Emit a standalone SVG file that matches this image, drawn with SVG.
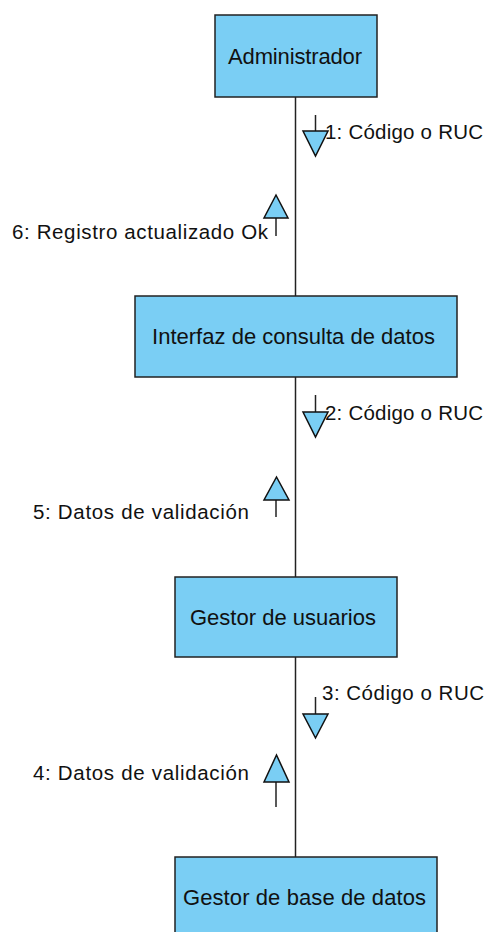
<svg xmlns="http://www.w3.org/2000/svg" width="490" height="932" viewBox="0 0 490 932">
<style>
.box{fill:#7acef4;stroke:#222;stroke-width:1.5}
.name{font-family:"Liberation Sans",Arial,sans-serif;font-size:22px;fill:#111}
.lbl{font-family:"Liberation Sans",Arial,sans-serif;font-size:20.5px;fill:#111}
.ln{stroke:#222;stroke-width:1.5;fill:none}
.tri{fill:#7acef4;stroke:#111;stroke-width:1.5;stroke-linejoin:miter}
</style>
<rect width="490" height="932" fill="#fff"/>
<g id="connectors">
<line class="ln" x1="295.5" y1="97" x2="295.5" y2="296"/>
<line class="ln" x1="295.5" y1="377" x2="295.5" y2="577"/>
<line class="ln" x1="295.5" y1="657" x2="295.5" y2="857"/>
<g id="msg1">
<line class="ln" x1="315.5" y1="115" x2="315.5" y2="131"/>
<polygon class="tri" points="303,131 328,131 315.5,156"/>
<text class="lbl" x="325" y="139" textLength="158" lengthAdjust="spacing">1: Código o RUC</text>
</g>
<g id="msg6">
<line class="ln" x1="276" y1="218" x2="276" y2="236"/>
<polygon class="tri" points="264,218 288,218 276,195"/>
<text class="lbl" x="12" y="239" textLength="256" lengthAdjust="spacing">6: Registro actualizado Ok</text>
</g>
<g id="msg2">
<line class="ln" x1="315.5" y1="395" x2="315.5" y2="412"/>
<polygon class="tri" points="303,412 328,412 315.5,437"/>
<text class="lbl" x="325" y="420" textLength="158" lengthAdjust="spacing">2: Código o RUC</text>
</g>
<g id="msg5">
<line class="ln" x1="276" y1="500" x2="276" y2="517"/>
<polygon class="tri" points="264,500 289,500 276.5,477"/>
<text class="lbl" x="33" y="519" textLength="216" lengthAdjust="spacing">5: Datos de validación</text>
</g>
<g id="msg3">
<line class="ln" x1="315.5" y1="697" x2="315.5" y2="714"/>
<polygon class="tri" points="303,714 328,714 315.5,738"/>
<text class="lbl" x="322" y="700" textLength="162" lengthAdjust="spacing">3: Código o RUC</text>
</g>
<g id="msg4">
<line class="ln" x1="276" y1="782" x2="276" y2="807"/>
<polygon class="tri" points="264,782 289,782 276.5,755"/>
<text class="lbl" x="33" y="780" textLength="216" lengthAdjust="spacing">4: Datos de validación</text>
</g>
</g>
<g id="administrador">
<rect class="box" x="215" y="15" width="162" height="82"/>
<text class="name" x="228" y="64" textLength="134" lengthAdjust="spacing">Administrador</text>
</g>
<g id="interfaz">
<rect class="box" x="135" y="296" width="322" height="81"/>
<text class="name" x="152" y="344" textLength="283" lengthAdjust="spacing">Interfaz de consulta de datos</text>
</g>
<g id="gestor-usuarios">
<rect class="box" x="175" y="577" width="222" height="80"/>
<text class="name" x="190" y="625" textLength="186" lengthAdjust="spacing">Gestor de usuarios</text>
</g>
<g id="gestor-bd">
<rect class="box" x="175" y="857" width="262" height="100"/>
<text class="name" x="183" y="905" textLength="243" lengthAdjust="spacing">Gestor de base de datos</text>
</g>
</svg>
